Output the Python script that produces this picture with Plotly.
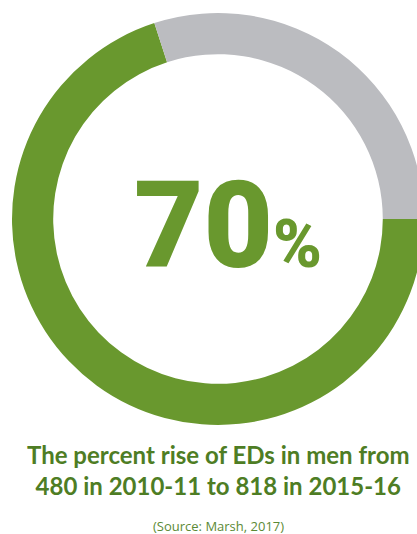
import plotly.graph_objects as go

labels = ["Rise", "Remainder"]
values = [70, 30]
colors = ["#69982e", "#bbbcc0"]
big_value = "70"
title_lines = ["The percent rise of EDs in men from", "480 in 2010-11 to 818 in 2015-16"]
source = "(Source: Marsh, 2017)"

W, H = 440, 534

fig = go.Figure(go.Pie(
    labels=labels, values=values, hole=0.8, sort=False, direction="clockwise",
    rotation=90, marker=dict(colors=colors, line=dict(width=0)),
    textinfo="none", hoverinfo="skip", showlegend=False,
    domain=dict(x=[12 / W, 424 / W], y=[(H - 425) / H, (H - 13) / H]),
))

fig.add_annotation(
    x=228 / W, y=(H - 226) / H, xref="paper", yref="paper", xanchor="center", yanchor="middle",
    text=big_value + "<span style='font-size:66px'>%</span>",
    showarrow=False,
    font=dict(family="Roboto", size=120, color="#69982e", weight=900),
)

fig.add_annotation(
    x=218 / W, y=(H - 470) / H, xref="paper", yref="paper", xanchor="center", yanchor="middle",
    text="<b>" + "<br>".join(title_lines) + "</b>",
    showarrow=False, align="center",
    font=dict(family="Lato", size=24, color="#4e7d24"),
)

fig.add_annotation(
    x=218 / W, y=(H - 526) / H, xref="paper", yref="paper", xanchor="center", yanchor="middle",
    text=source, showarrow=False,
    font=dict(family="Open Sans", size=13, color="#5b8a35"),
)

fig.update_layout(
    width=W, height=H, margin=dict(l=0, r=0, t=0, b=0),
    paper_bgcolor="white", plot_bgcolor="white",
)

fig.write_html("out.html", config=dict(displayModeBar=False),
               post_script="document.body.style.margin='0';document.body.style.overflow='hidden';document.documentElement.style.overflow='hidden';")
